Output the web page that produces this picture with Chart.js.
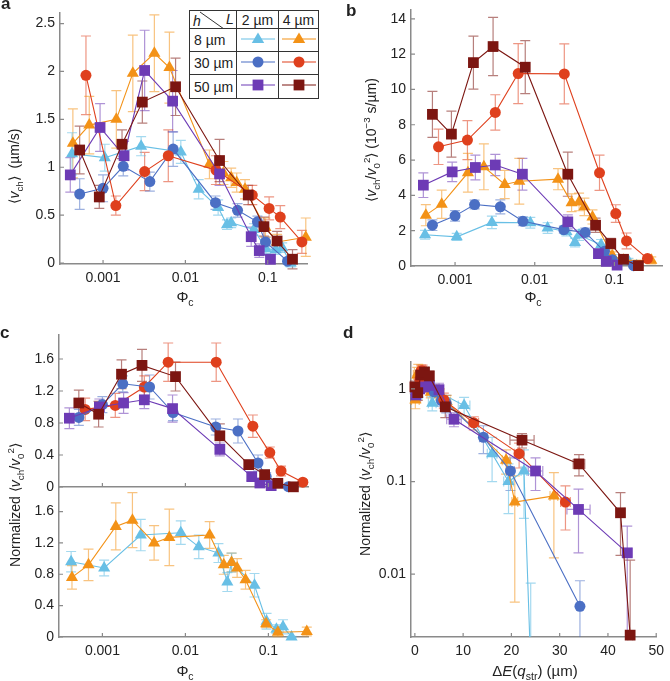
<!DOCTYPE html>
<html>
<head>
<meta charset="utf-8">
<script src="https://cdn.jsdelivr.net/npm/chart.js@4.4.0/dist/chart.umd.min.js"></script>
<style>
  body { margin: 0; background: #fff; font-family: 'Liberation Sans', Arial, sans-serif; color: #222; }
  #fig { position: relative; width: 670px; height: 681px; overflow: hidden; }
  .pane { position: absolute; }
  .letter { position: absolute; font-weight: bold; font-size: 17px; line-height: 1; }
  .ylab, .xlab { position: absolute; white-space: nowrap; font-size: 14px; line-height: 1; }
  .ylab { transform: translate(-50%, -50%) rotate(-90deg); }
  .xlab { transform: translate(-50%, -50%); font-size: 15px; }
  sub, sup { font-size: 70%; line-height: 0; }
  table.key { position: absolute; left: 189px; top: 10px; border-collapse: collapse; background: #fff; font-size: 14px; }
  table.key td { border: 1px solid #333; padding: 0; text-align: center; }
  table.key td.rowh { text-align: left; padding-left: 4px; }
</style>
</head>
<body>
<div id="fig">
  <div class="pane" style="left:0;top:-20px"><canvas id="ca" width="335" height="310"></canvas></div>
  <div class="pane" style="left:335px;top:-20px"><canvas id="cb" width="335" height="312"></canvas></div>
  <div class="pane" style="left:0;top:460px"><canvas id="cc2" width="335" height="203"></canvas></div>
  <div class="pane" style="left:0;top:310px"><canvas id="cc1" width="335" height="195"></canvas></div>
  <div class="pane" style="left:335px;top:330px"><canvas id="cd" width="335" height="333"></canvas></div>

  <div class="letter" style="left:1px;top:-5px">a</div>
  <div class="letter" style="left:346px;top:2px">b</div>
  <div class="letter" style="left:0px;top:324px">c</div>
  <div class="letter" style="left:343px;top:324px">d</div>

  <div class="ylab" style="left:14px;top:166px">⟨<i>v</i><sub>ch</sub>⟩ &nbsp;(µm/s)</div>
  <div class="ylab" style="left:371px;top:140px">⟨<i>v</i><sub>ch</sub>/<i>v</i><sub>0</sub><sup>2</sup>⟩ (10<sup>−3</sup> s/µm)</div>
  <div class="ylab" style="left:15px;top:505px">Normalized ⟨<i>v</i><sub>ch</sub>/<i>v</i><sub>0</sub><sup>2</sup>⟩</div>
  <div class="ylab" style="left:365px;top:494px">Normalized ⟨<i>v</i><sub>ch</sub>/<i>v</i><sub>0</sub><sup>2</sup>⟩</div>

  <div class="xlab" style="left:185px;top:296px">Φ<sub>c</sub></div>
  <div class="xlab" style="left:533px;top:296px">Φ<sub>c</sub></div>
  <div class="xlab" style="left:185px;top:670px">Φ<sub>c</sub></div>
  <div class="xlab" style="left:535px;top:670px">Δ<i>E</i>(<i>q</i><sub>str</sub>) (µm)</div>

  <table class="key" id="key"></table>
</div>

<script>
// ---- data ----
const phiTicks = [0.001, 0.01, 0.1];
const aTicks = [0, 0.5, 1, 1.5, 2, 2.5];
const bTicks = [0, 2, 4, 6, 8, 10, 12, 14];
const cTicks = [0, 0.4, 0.8, 1.2, 1.6];
const dxTicks = [0, 10, 20, 30, 40, 50];
const dyTicks = [0.01, 0.1, 1];

const rowLabels = ['8 µm', '30 µm', '50 µm'];
const colLabels = ['2 µm', '4 µm'];

// h = 8 um, L = 2 um (light blue triangles)
const phiLB = [4.2e-4, 1.05e-3, 2.9e-3, 8.8e-3, 0.0145, 0.025, 0.032, 0.036, 0.068, 0.095, 0.125, 0.15, 0.19];
const aLB = [1.14, 1.10, 1.22, 1.16, 0.77, 0.58, 0.40, 0.42, 0.35, 0.15, 0.14, 0.16, 0.0];
const aLBerr = [0.22, 0.14, 0.10, 0.12, 0.10, 0.08, 0.05, 0.05, 0.06, 0.05, 0.05, 0.05, 0.04];
const bLB = [1.77, 1.65, 2.47, 2.45, 2.15, 1.96, 1.33, 1.75, 1.2, 0.45, 0.25, 0.28, 0.02];
const bLBerr = [0.25, 0.2, 0.35, 0.3, 0.3, 0.25, 0.25, 0.3, 0.3, 0.2, 0.15, 0.15, 0.05];
const cLB = [0.96, 0.88, 1.30, 1.33, 1.15, 1.07, 0.70, 0.95, 0.66, 0.20, 0.10, 0.13, 0.001];
const cLBerr = [0.13, 0.1, 0.2, 0.15, 0.15, 0.12, 0.12, 0.12, 0.15, 0.1, 0.055, 0.09, 0.007];
const dLB = [0.2, 0.6, 1.0, 1.4, 2.0, 2.8, 3.6, 4.5, 10.2, 16.0, 19.4, 22.6, 24.0];
const dLBerr = [0.8, 0.8, 0.8, 0.8, 0.8, 0.8, 0.8, 0.8, 1.2, 1.0, 1.0, 0.6, 0.6];

// h = 8 um, L = 4 um (orange triangles)
const phiOR = [4.3e-4, 6.8e-4, 1.45e-3, 2.3e-3, 4.2e-3, 6.4e-3, 0.0196, 0.029, 0.036, 0.042, 0.053, 0.094, 0.13, 0.29];
const aOR = [1.25, 1.44, 1.50, 1.98, 2.19, 2.04, 1.03, 0.94, 0.89, 0.84, 0.77, 0.37, 0.22, 0.27];
const aORerr = [0.36, 0.3, 0.3, 0.4, 0.4, 0.37, 0.15, 0.12, 0.1, 0.1, 0.1, 0.1, 0.08, 0.2];
const bOR = [2.88, 3.5, 5.28, 5.62, 4.62, 4.8, 4.92, 3.58, 3.63, 3.35, 2.78, 0.6, 0.32, 0.32];
const bORerr = [0.6, 0.8, 1.1, 1.3, 0.8, 1.3, 0.6, 0.5, 0.5, 0.5, 0.4, 0.2, 0.2, 0.2];
const cOR = [0.76, 0.92, 1.41, 1.49, 1.20, 1.27, 1.30, 0.92, 0.95, 0.88, 0.73, 0.17, 0.06, 0.07];
const cORerr = [0.15, 0.2, 0.3, 0.35, 0.22, 0.36, 0.17, 0.12, 0.12, 0.12, 0.12, 0.05, 0.055, 0.055];
const dOR = [0.1, 0.3, 0.5, 0.7, 1.0, 1.3, 1.6, 3.3, 4.6, 5.2, 6.6, 18.9, 20.7, 28.8];
const dORerr = [0.8, 0.8, 0.8, 0.8, 0.8, 0.8, 0.8, 0.8, 0.8, 0.8, 0.8, 0.8, 0.6, 0.8];

// h = 30 um, L = 2 um (blue circles)
const phiBL = [5.2e-4, 1.0e-3, 1.76e-3, 3.7e-3, 7.1e-3, 0.0232, 0.043, 0.075, 0.094, 0.174];
const aBL = [0.72, 0.78, 1.01, 0.85, 1.19, 0.63, 0.55, 0.43, 0.22, 0.02];
const aBLerr = [0.16, 0.14, 0.1, 0.1, 0.18, 0.07, 0.07, 0.06, 0.05, 0.03];
const bBL = [2.31, 2.84, 3.48, 3.35, 2.53, 2.06, 1.9, 0.83, 0.36, 0.02];
const bBLerr = [0.3, 0.3, 0.25, 0.4, 0.25, 0.2, 0.25, 0.2, 0.1, 0.05];
const cBL = [0.87, 1.03, 1.29, 1.25, 0.93, 0.75, 0.70, 0.30, 0.13, 0.0045];
const cBLerr = [0.1, 0.1, 0.1, 0.15, 0.1, 0.1, 0.15, 0.1, 0.05, 0.004];
const dBL = [0.3, 1.0, 1.8, 2.5, 4.0, 5.5, 6.5, 14.2, 19.8, 34.2];
const dBLerr = [0.8, 0.8, 0.8, 0.8, 0.8, 0.8, 0.8, 0.8, 0.8, 0.5];

// h = 30 um, L = 4 um (red circles)
const phiRD = [6.2e-4, 1.43e-3, 3.2e-3, 6.2e-3, 0.0235, 0.065, 0.104, 0.142, 0.26];
const aRD = [1.96, 0.60, 0.955, 1.12, 0.97, 0.71, 0.57, 0.48, 0.22];
const aRDerr = [0.41, 0.1, 0.2, 0.27, 0.15, 0.1, 0.12, 0.12, 0.12];
const bRD = [6.75, 7.13, 8.7, 10.9, 10.88, 5.28, 2.97, 1.42, 0.42];
const bRDerr = [1.0, 1.1, 1.0, 1.7, 1.7, 1.0, 0.5, 0.45, 0.2];
const cRD = [0.97, 1.02, 1.25, 1.56, 1.56, 0.76, 0.43, 0.20, 0.06];
const cRDerr = [0.14, 0.15, 0.14, 0.24, 0.24, 0.14, 0.07, 0.06, 0.03];
const dRD = [0.3, 0.6, 1.0, 1.3, 1.6, 6.0, 12.2, 21.6, 31.2];
const dRDerr = [0.8, 0.8, 0.8, 0.8, 0.8, 0.8, 1.0, 1.0, 1.0];

// h = 50 um, L = 2 um (purple squares)
const phiPU = [4.0e-4, 9.2e-4, 1.8e-3, 3.2e-3, 7.0e-3, 0.026, 0.063, 0.079, 0.108];
const aPU = [0.92, 1.415, 1.12, 2.01, 1.69, 0.93, 0.275, 0.13, 0.04];
const aPUerr = [0.18, 0.25, 0.15, 0.42, 0.32, 0.12, 0.1, 0.07, 0.05];
const bPU = [4.58, 5.33, 5.58, 5.72, 5.2, 2.5, 0.7, 0.26, 0.05];
const bPUerr = [0.7, 0.55, 0.7, 0.6, 0.9, 0.4, 0.25, 0.2, 0.1];
const cPU = [0.86, 1.0, 1.05, 1.09, 0.98, 0.47, 0.13, 0.05, 0.017];
const cPUerr = [0.13, 0.1, 0.13, 0.11, 0.17, 0.08, 0.05, 0.033, 0.016];
const dPU = [0.2, 1.0, 2.0, 3.0, 5.0, 8.1, 25.0, 33.9, 44.0];
const dPUerr = [0.8, 0.8, 0.8, 0.8, 0.8, 1.5, 1.5, 2.4, 1.0];

// h = 50 um, L = 4 um (dark red squares)
const phiMR = [5.2e-4, 9.0e-4, 1.7e-3, 3.0e-3, 7.6e-3, 0.026, 0.058, 0.09, 0.13, 0.2];
const aMR = [1.18, 0.69, 1.24, 1.68, 1.84, 1.07, 0.71, 0.38, 0.23, 0.04];
const aMRerr = [0.25, 0.12, 0.15, 0.22, 0.3, 0.22, 0.1, 0.1, 0.1, 0.1];
const bMR = [8.59, 7.47, 11.52, 12.43, 11.26, 5.2, 2.31, 1.27, 0.38, 0.02];
const bMRerr = [1.3, 1.3, 1.5, 1.65, 1.5, 1.25, 0.4, 0.3, 0.2, 0.1];
const cMR = [1.05, 0.91, 1.41, 1.52, 1.38, 0.64, 0.28, 0.155, 0.046, 0.0022];
const cMRerr = [0.16, 0.16, 0.18, 0.2, 0.18, 0.15, 0.05, 0.04, 0.03, 0.012];
const dMR = [0, 0.6, 1.2, 2.0, 3.0, 6.3, 22.2, 34.0, 42.6, 44.6];
const dMRerr = [0.8, 0.8, 0.8, 0.8, 0.8, 0.8, 2.5, 1.2, 0.8, 0.5];

// ---- styles ----
const FONT = "'Liberation Sans', Arial, sans-serif";
const styles = {
  lb: { color: '#68bfe5', err: 'rgba(104,191,229,0.6)', shape: 'triangle', r: 7 },
  or: { color: '#f39217', err: 'rgba(243,146,23,0.55)', shape: 'triangle', r: 7 },
  bl: { color: '#4b6fc4', err: 'rgba(75,111,196,0.55)', shape: 'circle', r: 5.5 },
  rd: { color: '#df401d', err: 'rgba(223,64,29,0.55)', shape: 'circle', r: 5.5 },
  pu: { color: '#6d3bb5', err: 'rgba(109,59,181,0.55)', shape: 'rect', r: 7.6 },
  mr: { color: '#7c1611', err: 'rgba(124,22,17,0.55)', shape: 'rect', r: 7.6 }
};

function series(key, xs, ys, yErr, xErr) {
  const s = styles[key];
  return {
    data: xs.map((x, i) => ({ x: x, y: ys[i] })),
    yErr: yErr,
    xErr: xErr,
    errColor: s.err,
    showLine: true,
    borderColor: s.color,
    backgroundColor: s.color,
    pointBackgroundColor: s.color,
    pointBorderColor: s.color,
    pointBorderWidth: 0,
    pointStyle: s.shape,
    pointRadius: s.r,
    pointHoverRadius: s.r,
    borderWidth: 1.1,
    clip: false
  };
}

// error bars drawn through the chart scales
const errorBars = {
  id: 'errorBars',
  beforeDatasetsDraw(chart) {
    const { ctx, scales: { x, y } } = chart;
    const cap = 5;
    ctx.save();
    ctx.lineWidth = 1.2;
    chart.data.datasets.forEach(ds => {
      ctx.strokeStyle = ds.errColor;
      ds.data.forEach((p, i) => {
        const px = x.getPixelForValue(p.x);
        const py = y.getPixelForValue(p.y);
        ctx.beginPath();
        if (ds.yErr) {
          const e = ds.yErr[i];
          const top = y.getPixelForValue(p.y + e);
          const lo = p.y - e;
          const clipped = y.type === 'logarithmic' && lo <= y.min;
          const bot = clipped ? y.bottom : y.getPixelForValue(lo);
          ctx.moveTo(px, top); ctx.lineTo(px, bot);
          ctx.moveTo(px - cap, top); ctx.lineTo(px + cap, top);
          if (!clipped) { ctx.moveTo(px - cap, bot); ctx.lineTo(px + cap, bot); }
        }
        if (ds.xErr && p.y >= y.min) {
          const e = ds.xErr[i];
          const l = x.getPixelForValue(p.x - e), r = x.getPixelForValue(p.x + e);
          ctx.moveTo(l, py); ctx.lineTo(r, py);
          ctx.moveTo(l, py - cap); ctx.lineTo(l, py + cap);
          ctx.moveTo(r, py - cap); ctx.lineTo(r, py + cap);
        }
        ctx.stroke();
      });
    });
    ctx.restore();
  }
};

// small inward tick marks
const innerTicks = {
  id: 'innerTicks',
  afterDraw(chart) {
    const { ctx, chartArea } = chart;
    ctx.save();
    ctx.strokeStyle = '#8a8a8a';
    ctx.lineWidth = 1.2;
    ctx.beginPath();
    chart.scales.x.ticks.forEach(t => {
      const px = chart.scales.x.getPixelForValue(t.value);
      ctx.moveTo(px, chartArea.bottom); ctx.lineTo(px, chartArea.bottom - 4);
    });
    chart.scales.y.ticks.forEach(t => {
      const py = chart.scales.y.getPixelForValue(t.value);
      ctx.moveTo(chartArea.left, py); ctx.lineTo(chartArea.left + 4, py);
    });
    ctx.stroke();
    ctx.restore();
  }
};

function axis(type, min, max, ticks, size, isX, labels) {
  return {
    type: type,
    min: min,
    max: max,
    afterBuildTicks: s => { s.ticks = ticks.map(v => ({ value: v })); },
    afterFit: s => { if (isX) s.height = size; else s.width = size; },
    grid: { display: false, drawTicks: false },
    border: { display: true, color: '#8a8a8a', width: 1.5 },
    ticks: {
      display: labels !== false,
      autoSkip: false,
      maxRotation: 0,
      color: '#222',
      padding: isX ? 6 : 5,
      font: { family: FONT, size: 14 },
      callback: v => String(v)
    }
  };
}

function makeChart(id, datasets, xScale, yScale, padding) {
  return new Chart(document.getElementById(id), {
    type: 'scatter',
    data: { datasets: datasets },
    options: {
      responsive: false,
      animation: false,
      devicePixelRatio: 1,
      events: [],
      layout: { padding: padding },
      plugins: { legend: { display: false }, tooltip: { enabled: false } },
      scales: { x: xScale, y: yScale }
    },
    plugins: [errorBars, innerTicks]
  });
}

// ---- panel a ----
makeChart('ca', [
  series('mr', phiMR, aMR, aMRerr),
  series('pu', phiPU, aPU, aPUerr),
  series('rd', phiRD, aRD, aRDerr),
  series('bl', phiBL, aBL, aBLerr),
  series('or', phiOR, aOR, aORerr),
  series('lb', phiLB, aLB, aLBerr)
], axis('logarithmic', 3.12e-4, 0.3, phiTicks, 26, true),
   axis('linear', -0.01, 2.61, aTicks, 60, false),
   { left: 0, top: 33, right: 28, bottom: 0 });

// ---- panel b ----
makeChart('cb', [
  series('mr', phiMR, bMR, bMRerr),
  series('rd', phiRD, bRD, bRDerr),
  series('pu', phiPU, bPU, bPUerr),
  series('bl', phiBL, bBL, bBLerr),
  series('or', phiOR, bOR, bORerr),
  series('lb', phiLB, bLB, bLBerr)
], axis('logarithmic', 2.8e-4, 0.4, phiTicks, 26, true),
   axis('linear', 0, 14.5, bTicks, 76, false),
   { left: 0, top: 30, right: 2, bottom: 0 });

// ---- panel c, top (h = 30, 50 um) ----
makeChart('cc1', [
  series('mr', phiMR, cMR, cMRerr),
  series('pu', phiPU, cPU, cPUerr),
  series('bl', phiBL, cBL, cBLerr),
  series('rd', phiRD, cRD, cRDerr)
], axis('logarithmic', 3.12e-4, 0.3, phiTicks, 18, true, false),
   axis('linear', 0, 1.9, cTicks, 59, false),
   { left: 0, top: 25, right: 27, bottom: 0 });

// ---- panel c, bottom (h = 8 um) ----
makeChart('cc2', [
  series('or', phiOR, cOR, cORerr),
  series('lb', phiLB, cLB, cLBerr)
], axis('logarithmic', 3.12e-4, 0.3, phiTicks, 26, true),
   axis('linear', 0, 1.9, cTicks, 59, false),
   { left: 0, top: 28, right: 27, bottom: 0 });

// ---- panel d ----
const dSets = [
  series('mr', dMR, cMR, cMRerr, dMRerr),
  series('pu', dPU, cPU, cPUerr, dPUerr),
  series('rd', dRD, cRD, cRDerr, dRDerr),
  series('bl', dBL, cBL, cBLerr, dBLerr),
  series('or', dOR, cOR, cORerr, dORerr),
  series('lb', dLB, cLB, cLBerr, dLBerr)
];
dSets[5].clip = { left: 10, top: 10, right: 10, bottom: 0 };
makeChart('cd', dSets,
  axis('linear', -0.8, 50, dxTicks, 26, true),
  axis('logarithmic', 0.0021, 1.95, dyTicks, 76, false),
  { left: 0, top: 32, right: 10, bottom: 0 });

// ---- key table (h vs L) ----
function marker(key) {
  const s = styles[key];
  let shape;
  if (s.shape === 'triangle') shape = '<polygon points="18,0.5 24.2,11 11.8,11" fill="' + s.color + '"/>';
  else if (s.shape === 'circle') shape = '<circle cx="18" cy="7" r="5.5" fill="' + s.color + '"/>';
  else shape = '<rect x="12.6" y="1.6" width="10.8" height="10.8" fill="' + s.color + '"/>';
  return '<svg width="36" height="14"><line x1="1" y1="7" x2="35" y2="7" stroke="' + s.color + '" stroke-width="1.1"/>' + shape + '</svg>';
}
const keyRows = [['lb', 'or'], ['bl', 'rd'], ['pu', 'mr']];
const rowH = [23, 23, 24];
let html = '<tr style="height:18px"><td style="width:46px;position:relative">' +
  '<svg width="46" height="18" style="position:absolute;left:0;top:0"><line x1="10" y1="1" x2="34" y2="18" stroke="#333" stroke-width="1"/></svg>' +
  '<i style="position:absolute;left:3px;top:2px">h</i><i style="position:absolute;left:36px;top:0px">L</i></td>' +
  colLabels.map((c, i) => '<td style="width:' + (i ? 39 : 41) + 'px">' + c + '</td>').join('') + '</tr>';
rowLabels.forEach((r, i) => {
  html += '<tr style="height:' + rowH[i] + 'px"><td class="rowh">' + r + '</td>' +
    keyRows[i].map(k => '<td>' + marker(k) + '</td>').join('') + '</tr>';
});
document.getElementById('key').innerHTML = html;
</script>
</body>
</html>
